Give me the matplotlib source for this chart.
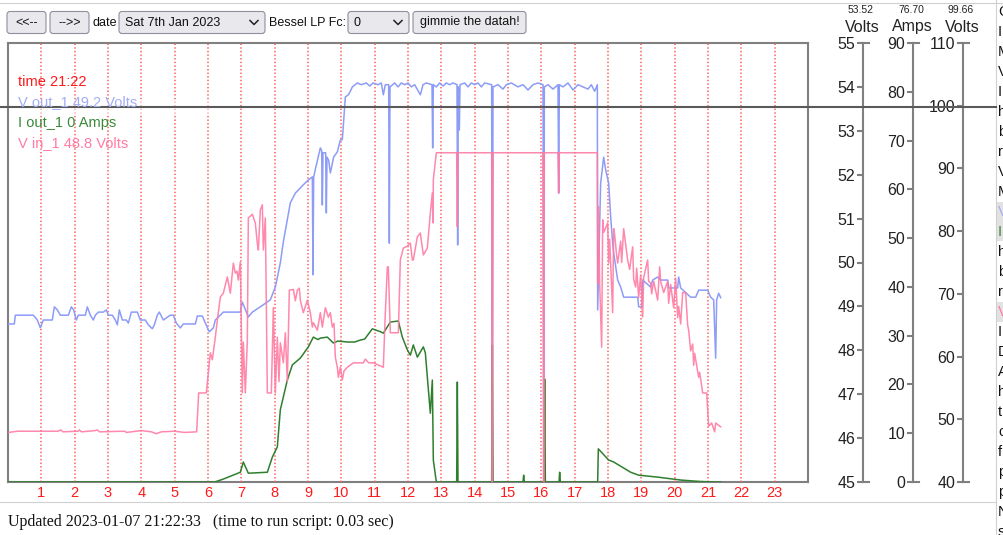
import matplotlib
matplotlib.use('Agg')
import matplotlib.pyplot as plt
from matplotlib.patches import FancyBboxPatch, Rectangle

plt.rcParams['font.family'] = ['Liberation Sans', 'DejaVu Sans']
plt.rcParams['lines.scale_dashes'] = False

# ---------------- data ----------------
hours = list(range(1, 24))
hour_labels = [str(h) for h in hours]

v_out = [(0.00,48.60),(0.19,48.60),(0.22,48.80),(0.76,48.80),(0.88,48.69),(0.97,48.51),(1.06,48.69),(1.33,48.69),(1.39,48.99),(1.48,48.92),(1.57,48.80),(1.81,48.80),(1.90,48.99),(1.97,48.92),(2.05,48.69),(2.11,48.80),(2.32,48.80),(2.38,48.99),(2.47,48.80),(2.56,48.69),(2.62,48.80),(2.71,48.87),(2.86,48.87),(2.95,48.92),(3.01,48.80),(3.13,48.80),(3.22,48.69),(3.28,48.58),(3.34,48.92),(3.43,48.69),(3.55,48.69),(3.61,48.62),(3.70,48.87),(3.88,48.87),(3.97,48.69),(4.12,48.69),(4.21,48.58),(4.33,48.49),(4.39,48.58),(4.48,48.80),(4.54,48.87),(4.66,48.69),(4.87,48.80),(4.96,48.80),(5.05,48.62),(5.17,48.51),(5.26,48.60),(5.62,48.60),(5.68,48.78),(5.83,48.78),(5.92,48.62),(6.04,48.42),(6.16,48.51),(6.22,48.69),(6.46,48.87),(6.97,48.87),(7.03,49.10),(7.21,48.76),(7.33,48.87),(7.57,48.99),(7.78,49.10),(7.87,49.15),(8.02,49.44),(8.17,49.99),(8.26,50.47),(8.47,51.36),(8.62,51.58),(8.86,51.77),(9.01,51.88),(9.13,51.95),(9.15,49.72),(9.17,51.95),(9.25,52.22),(9.37,52.61),(9.41,52.55),(9.43,51.31),(9.45,52.50),(9.53,52.50),(9.55,51.13),(9.57,52.40),(9.62,52.33),(9.67,52.04),(9.77,52.40),(9.88,52.52),(9.97,52.79),(10.03,52.80),(10.12,53.77),(10.21,53.82),(10.27,53.90),(10.33,54.00),(10.48,54.09),(10.60,54.05),(10.75,54.09),(10.85,54.02),(10.95,54.09),(11.10,54.05),(11.20,54.09),(11.26,53.82),(11.32,54.05),(11.42,54.05),(11.44,50.44),(11.46,54.00),(11.60,54.09),(11.70,54.00),(11.80,54.09),(11.90,54.05),(12.00,54.09),(12.10,54.00),(12.20,54.05),(12.37,53.82),(12.45,54.05),(12.55,54.09),(12.72,54.05),(12.74,52.61),(12.76,54.05),(12.85,54.00),(12.95,54.09),(13.05,54.02),(13.15,54.09),(13.25,54.05),(13.35,54.09),(13.47,54.05),(13.49,50.40),(13.51,54.00),(13.54,53.02),(13.56,54.05),(13.70,54.09),(13.80,54.00),(13.90,54.09),(14.00,54.05),(14.10,54.09),(14.20,54.00),(14.30,54.09),(14.51,54.05),(14.53,45.00),(14.55,54.00),(14.70,54.05),(14.85,53.95),(14.95,54.05),(15.10,54.09),(15.30,54.00),(15.45,54.05),(15.60,53.93),(15.75,54.05),(15.90,54.09),(16.05,54.05),(16.07,45.00),(16.09,54.00),(16.20,54.05),(16.35,53.95),(16.50,54.05),(16.52,51.58),(16.54,54.05),(16.65,54.00),(16.80,54.09),(16.95,53.93),(17.10,54.05),(17.25,54.00),(17.40,53.95),(17.50,54.05),(17.60,53.90),(17.68,54.05),(17.69,48.92),(17.78,51.81),(17.87,52.40),(17.93,52.11),(18.02,51.81),(18.08,51.04),(18.14,50.44),(18.17,50.22),(18.29,49.60),(18.38,49.44),(18.47,49.21),(18.89,49.21),(18.92,48.99),(19.01,48.99),(19.04,49.60),(19.19,49.50),(19.28,49.44),(19.34,49.60),(19.49,49.67),(19.58,49.60),(19.79,49.60),(19.82,49.42),(20.09,49.42),(20.12,49.67),(20.18,49.42),(20.48,49.21),(20.63,49.21),(20.72,49.37),(20.99,49.37),(21.08,49.21),(21.17,49.15),(21.23,47.82),(21.26,49.15),(21.32,49.30),(21.38,49.20)]

i_out = [(0.00,0.0),(6.20,0.0),(6.46,0.6),(6.97,2.0),(7.06,4.1),(7.21,1.8),(7.78,2.0),(7.93,5.1),(8.08,7.2),(8.17,14.8),(8.38,20.9),(8.53,24.0),(8.77,25.4),(9.01,27.7),(9.16,29.7),(9.30,29.2),(9.37,29.5),(9.58,29.7),(9.76,28.5),(9.90,28.9),(10.18,28.7),(10.40,28.7),(10.57,29.1),(10.70,29.3),(10.93,31.4),(11.18,30.8),(11.26,30.5),(11.47,32.8),(11.71,33.0),(11.83,29.7),(11.98,27.1),(12.07,26.0),(12.16,28.1),(12.28,25.6),(12.46,27.7),(12.52,26.5),(12.67,14.1),(12.73,20.9),(12.76,4.5),(12.85,0.0),(13.46,0.0),(13.48,20.5),(13.50,0.0),(14.51,0.0),(14.53,28.1),(14.55,0.0),(15.45,0.0),(15.47,1.4),(15.49,0.0),(16.08,0.0),(16.10,21.1),(16.12,0.0),(16.53,0.0),(16.55,2.0),(16.57,0.0),(17.69,0.0),(17.71,6.8),(18.02,4.5),(18.17,4.1),(18.68,2.0),(18.92,1.4),(19.49,1.0),(20.18,0.4),(20.78,0.1),(21.20,0.0),(21.38,0.0)]

v_in = [(0.00,47.9),(0.30,48.1),(1.50,48.1),(1.58,48.3),(1.65,48.0),(2.10,48.1),(2.14,48.3),(2.20,48.0),(2.62,48.2),(2.68,48.3),(2.75,48.0),(3.50,48.1),(3.55,47.9),(4.00,48.2),(4.30,48.0),(4.45,47.7),(4.60,48.0),(5.00,48.1),(5.30,47.9),(5.66,48.0),(5.72,54.2),(5.95,54.2),(6.07,60.6),(6.13,59.5),(6.22,63.1),(6.28,65.8),(6.37,69.5),(6.46,70.1),(6.58,72.7),(6.67,70.1),(6.76,74.9),(6.82,73.3),(6.87,73.6),(6.91,72.2),(6.97,75.1),(7.03,54.2),(7.06,62.3),(7.12,54.2),(7.18,62.6),(7.21,82.1),(7.27,82.4),(7.33,82.7),(7.42,81.3),(7.48,78.0),(7.51,77.0),(7.57,83.4),(7.63,84.2),(7.66,77.0),(7.72,82.1),(7.78,54.2),(7.90,54.2),(7.96,67.8),(8.02,54.2),(8.08,63.1),(8.13,56.0),(8.17,62.2),(8.26,59.0),(8.32,63.8),(8.38,56.0),(8.44,70.6),(8.56,70.7),(8.62,68.9),(8.68,70.6),(8.74,70.9),(8.77,69.0),(8.86,67.0),(8.98,69.0),(9.07,67.0),(9.13,64.7),(9.16,65.4),(9.28,64.2),(9.37,67.0),(9.43,64.7),(9.52,67.8),(9.61,66.3),(9.67,67.0),(9.73,64.7),(9.78,65.3),(9.82,59.9),(9.88,58.3),(9.91,56.7),(9.97,58.3),(10.03,56.3),(10.08,57.7),(10.18,58.3),(10.36,59.0),(10.66,59.0),(10.72,59.6),(10.82,59.0),(10.96,59.0),(11.26,58.3),(11.32,67.0),(11.38,74.3),(11.41,74.3),(11.47,63.8),(11.71,63.8),(11.77,75.4),(11.86,77.3),(11.98,77.6),(12.07,78.1),(12.13,75.4),(12.16,75.4),(12.28,79.1),(12.37,79.7),(12.46,76.2),(12.58,77.3),(12.67,82.9),(12.73,86.1),(12.75,81.3),(12.76,88.2),(12.85,92.5),(13.46,92.5),(13.48,80.7),(13.50,92.5),(14.51,92.5),(14.53,40.0),(14.55,92.5),(16.05,92.5),(16.07,40.0),(16.09,92.5),(16.50,92.5),(16.52,86.1),(16.54,92.5),(17.68,92.5),(17.69,71.7),(17.72,83.9),(17.75,71.7),(17.81,61.5),(17.84,81.8),(17.87,79.8),(17.99,81.3),(18.02,74.9),(18.05,78.7),(18.14,67.0),(18.17,80.4),(18.20,79.4),(18.26,76.1),(18.29,74.9),(18.38,78.4),(18.41,75.0),(18.47,80.4),(18.59,75.4),(18.65,73.9),(18.74,77.5),(18.77,72.3),(18.83,71.1),(18.86,74.1),(18.92,69.4),(18.98,73.0),(19.04,66.3),(19.07,72.6),(19.19,75.4),(19.22,72.0),(19.28,71.7),(19.31,70.0),(19.37,72.0),(19.49,69.0),(19.55,74.3),(19.58,72.0),(19.67,70.2),(19.79,72.0),(19.82,68.5),(19.88,71.5),(19.97,67.8),(20.03,72.5),(20.09,66.2),(20.12,68.0),(20.18,65.2),(20.24,70.2),(20.33,70.2),(20.39,65.0),(20.42,64.2),(20.48,60.9),(20.54,62.0),(20.57,58.6),(20.60,60.5),(20.66,58.6),(20.72,56.7),(20.75,57.5),(20.84,54.2),(20.96,54.2),(21.02,48.9),(21.11,49.4),(21.20,48.0),(21.23,49.4),(21.38,48.8)]

legend_lines = ["time 21:22", "V out_1 49.2 Volts", "I out_1 0 Amps", "V in_1 48.8 Volts"]
axis_headers = [("53.52", "Volts"), ("76.70", "Amps"), ("99.66", "Volts")]
axis_ranges = [(45, 55, 1), (0, 90, 10), (40, 110, 10)]
footer = "Updated 2023-01-07 21:22:33   (time to run script: 0.03 sec)"
side_letters = ["C", "I", "M", "V", "I", "h", "b", "r", "V", "M", "V", "I", "h", "b", "r", "V", "I",
                "D", "A", "h", "t", "c", "f", "p", "p", "N", "s"]

# ---------------- colours ----------------
C_BLUE = '#8c9cf7'
C_GREEN = '#2f7f2f'
C_PINK = '#ff7ba4'
C_AXIS = '#808080'

W, H = 1004, 535
fig = plt.figure(figsize=(W / 100, H / 100), dpi=100)


def rect(x0, y0, x1, y1):
    return [x0 / W, 1 - y1 / H, (x1 - x0) / W, (y1 - y0) / H]


L, R, T, B = 8, 808, 43, 482

ax = fig.add_axes(rect(L, T, R, B))
ax.set_xlim(0, 24)
ax.set_ylim(45, 55)
ax.set_yticks([])
ax.set_xticks(hours)
ax.set_xticklabels(hour_labels, color='#ff1a1a', fontsize=10.5)
ax.tick_params(axis='x', length=0, pad=3)
for s in ax.spines.values():
    s.set_color(C_AXIS)
    s.set_linewidth(1.5)
for h in hours:
    ax.axvline(h, color='#ff5a5a', lw=1.4, dashes=(1.0, 1.6), alpha=0.8, zorder=3)

ax.plot([p[0] for p in v_out], [p[1] for p in v_out], color=C_BLUE, lw=1.1, zorder=4)

ax2 = ax.twinx()
ax2.set_ylim(0, 90)
ax2.set_axis_off()
ax2.plot([p[0] for p in i_out], [p[1] for p in i_out], color=C_GREEN, lw=1.1)

ax3 = ax.twinx()
ax3.set_ylim(40, 110)
ax3.set_axis_off()
ax3.plot([p[0] for p in v_in], [p[1] for p in v_in], color=C_PINK, lw=1.1, alpha=0.9)

# right-hand scales
axis_x = [863, 913, 963]
for xp, (lo, hi, st), (val, unit) in zip(axis_x, axis_ranges, axis_headers):
    rax = fig.add_axes(rect(xp, T, xp + 6, B))
    rax.patch.set_visible(False)
    rax.set_ylim(lo, hi)
    rax.set_xlim(0, 1)
    rax.set_xticks([])
    rax.set_yticks(list(range(lo, hi + 1, st)))
    rax.spines['right'].set_visible(False)
    for k in ('left', 'top', 'bottom'):
        rax.spines[k].set_color(C_AXIS)
        rax.spines[k].set_linewidth(1.5)
    rax.tick_params(axis='y', direction='out', length=4.5, width=1.5, color=C_AXIS,
                    labelsize=11.5, pad=1, labelcolor='#222222')
    fig.text((xp - 2) / W, 1 - 10 / H, val, fontsize=7.5, ha='center', va='center', color='#222222')
    fig.text((xp - 1) / W, 1 - 27 / H, unit, fontsize=11.5, ha='center', va='center', color='#222222')

# ---------------- page overlay (pixel coords) ----------------
ov = fig.add_axes([0, 0, 1, 1])
ov.set_xlim(0, W)
ov.set_ylim(H, 0)
ov.axis('off')
ov.patch.set_visible(False)
ov.set_zorder(10)

ov.plot([0, W], [2.5, 2.5], color='#d0d0d0', lw=0.8)
ov.plot([0, 996], [502, 502], color='#d0d0d0', lw=0.8)
ov.plot([996, 996], [0, H], color='#d0d0d0', lw=0.8)

FS = 9.0


def button(x0, x1, label, center=True, chevron=None):
    ov.add_patch(FancyBboxPatch((x0, 11.5), x1 - x0, 22, boxstyle='round,pad=0,rounding_size=3',
                                fc='#e9e9ed', ec='#8f8f9d', lw=0.8))
    if center:
        ov.text((x0 + x1) / 2, 22.5, label, ha='center', va='center', fontsize=FS, color='#111111')
    else:
        ov.text(x0 + 6, 22.5, label, ha='left', va='center', fontsize=FS, color='#111111')
    if chevron is not None:
        ov.plot([chevron - 4, chevron, chevron + 4], [20.5, 24.5, 20.5], color='#222222', lw=1.1)


button(7, 46, "<<--")
button(50, 89, "-->>")
ov.text(93, 22.5, "date", ha='left', va='center', fontsize=FS, color='#111111')
button(119, 265, "Sat 7th Jan 2023", center=False, chevron=254)
ov.text(269, 22.5, "Bessel LP Fc:", ha='left', va='center', fontsize=FS, color='#111111')
button(348, 409, "0", center=False, chevron=398)
button(413, 526, "gimmie the datah!")

# cursor line and legend
ov.plot([0, 996], [107, 107], color='#5a5a5a', lw=1.5)
ov.add_patch(Rectangle((22, 100), 195, 14, fc='white', ec='none', alpha=0.5))
leg_colors = ['#ff1a1a', '#a3aef5', '#3a8a3a', '#ff7ba4']
for i, (txt, col) in enumerate(zip(legend_lines, leg_colors)):
    ov.text(18, 82 + i * 20.3, txt, ha='left', va='center', fontsize=10.5, color=col)

ov.text(8, 522, footer, ha='left', va='center', fontsize=11.5, color='#111111',
        family=['Liberation Serif', 'DejaVu Serif'])

# cut-off side panel
ov.add_patch(Rectangle((997, 202), 7, 39, fc='#e2e2e2', ec='none'))
ov.add_patch(Rectangle((997, 302), 7, 20, fc='#e2e2e2', ec='none'))
side_colors = {10: '#a3aef5', 11: '#3a8a3a', 15: '#ff7ba4'}
for i, ch in enumerate(side_letters):
    ov.text(998, 12 + i * 20, ch, ha='left', va='center', fontsize=10.5,
            color=side_colors.get(i, '#111111'))

fig.savefig('out.png', dpi=100)
